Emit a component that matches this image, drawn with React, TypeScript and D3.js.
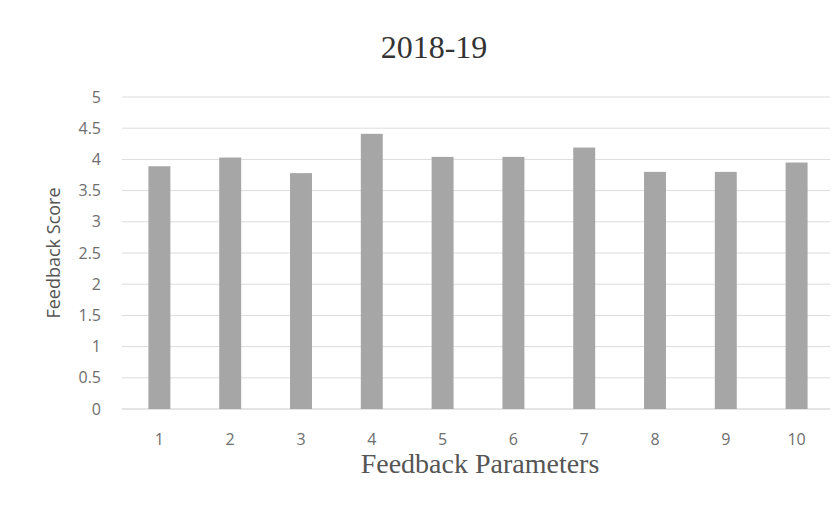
import React, { useRef, useEffect } from 'react';
import * as d3 from 'd3';

const categories = ['1', '2', '3', '4', '5', '6', '7', '8', '9', '10'];
const scores = [3.89, 4.03, 3.78, 4.41, 4.04, 4.04, 4.19, 3.8, 3.8, 3.95];
const yTicks = [0, 0.5, 1, 1.5, 2, 2.5, 3, 3.5, 4, 4.5, 5];

function App() {
  const canvas = useRef<HTMLDivElement>(null);

  useEffect(() => {
    const W = 838;
    const H = 517;
    const plot = { left: 124, right: 832, top: 97, bottom: 409 };

    d3.select(canvas.current).select('svg').remove();
    const svg = d3
      .select(canvas.current)
      .append('svg')
      .attr('width', W)
      .attr('height', H)
      .style('display', 'block');

    svg.append('rect').attr('width', W).attr('height', H).attr('fill', '#ffffff');
    // faint outline of the scanned chart box
    svg.append('rect')
      .attr('x', 5).attr('y', 3).attr('width', W + 10).attr('height', H + 10)
      .attr('fill', 'none').attr('stroke', '#e4e4e4').attr('stroke-width', 1);

    const x = d3.scaleBand()
      .domain(categories)
      .range([plot.left, plot.right])
      .paddingInner(0.69)
      .paddingOuter(0.345);

    const y = d3.scaleLinear().domain([0, 5]).range([plot.bottom, plot.top]);

    // grid lines
    svg.append('g')
      .selectAll('line')
      .data(yTicks)
      .enter()
      .append('line')
      .attr('x1', 122)
      .attr('x2', W)
      .attr('y1', (d) => y(d))
      .attr('y2', (d) => y(d))
      .attr('stroke', (d) => (d === 0 ? '#cacaca' : '#dcdcdc'))
      .attr('stroke-width', 1);

    // y tick labels
    svg.append('g')
      .selectAll('text')
      .data(yTicks)
      .enter()
      .append('text')
      .attr('x', 101)
      .attr('y', (d) => y(d))
      .attr('dy', '0.35em')
      .attr('text-anchor', 'end')
      .style('font-family', '"Open Sans", sans-serif')
      .style('font-size', '16px')
      .style('fill', '#6e6e6e')
      .text((d) => String(d));

    // bars
    svg.append('g')
      .selectAll('rect')
      .data(scores)
      .enter()
      .append('rect')
      .attr('x', (d, i) => x(categories[i]) as number)
      .attr('y', (d) => y(d))
      .attr('width', x.bandwidth())
      .attr('height', (d) => plot.bottom - y(d))
      .attr('fill', '#a6a6a6');

    // x tick labels
    svg.append('g')
      .selectAll('text')
      .data(categories)
      .enter()
      .append('text')
      .attr('x', (d) => (x(d) as number) + x.bandwidth() / 2)
      .attr('y', 439)
      .attr('dy', '0.35em')
      .attr('text-anchor', 'middle')
      .style('font-family', '"Open Sans", sans-serif')
      .style('font-size', '16px')
      .style('fill', '#6e6e6e')
      .text((d) => d);

    // titles
    svg.append('text')
      .attr('x', 434)
      .attr('y', 58)
      .attr('text-anchor', 'middle')
      .style('font-family', '"Liberation Serif", serif')
      .style('font-size', '32px')
      .style('fill', '#333')
      .text('2018-19');

    svg.append('text')
      .attr('x', 480)
      .attr('y', 473)
      .attr('text-anchor', 'middle')
      .style('font-family', '"Liberation Serif", serif')
      .style('font-size', '28px')
      .style('fill', '#555')
      .text('Feedback Parameters');

    svg.append('text')
      .attr('transform', 'translate(54,253) rotate(-90)')
      .attr('dy', '0.35em')
      .attr('text-anchor', 'middle')
      .style('font-family', '"Open Sans", sans-serif')
      .style('font-size', '18px')
      .style('fill', '#555')
      .text('Feedback Score');
  }, []);

  return <div ref={canvas} style={{ margin: -8 }}></div>;
}

export default App;
